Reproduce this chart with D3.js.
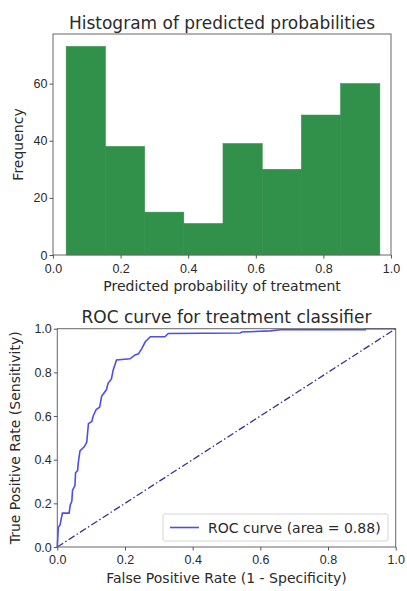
<!DOCTYPE html>
<html>
<head>
<meta charset="utf-8">
<script src="https://cdn.jsdelivr.net/npm/d3@7"></script>
<style>
  body { margin: 0; background: #fff; }
  svg { display: block; font-family: "DejaVu Sans", sans-serif; }
  .axis text { fill: #2a2a2a; font-size: 12.5px; }
  .axis path, .axis line { stroke: #555; }
</style>
</head>
<body>
<svg width="407" height="591"></svg>
<script>
// histogram: bin edges and counts
var binEdges = [0.039, 0.155, 0.271, 0.387, 0.503, 0.619, 0.735, 0.851, 0.967];
var binCounts = [73, 38, 15, 11, 39, 30, 49, 60];
var histXTicks = [0, 0.2, 0.4, 0.6, 0.8, 1.0];
var histYTicks = [0, 20, 40, 60];

// ROC curve points (false positive rate, true positive rate)
var rocFpr = [0, 0.003, 0.008, 0.015, 0.035, 0.038, 0.043, 0.045, 0.052, 0.054, 0.060, 0.062, 0.067,
    0.080, 0.087, 0.092, 0.102, 0.106, 0.115, 0.125, 0.131, 0.145, 0.150, 0.160, 0.165, 0.175,
    0.215, 0.230, 0.240, 0.250, 0.260, 0.275, 0.318, 0.328, 0.540, 0.545, 0.630, 0.660, 0.910, 0.910, 1.0];
var rocTpr = [0, 0.09, 0.10, 0.155, 0.155, 0.19, 0.21, 0.26, 0.28, 0.34, 0.35, 0.385, 0.44,
    0.46, 0.48, 0.565, 0.575, 0.60, 0.63, 0.64, 0.69, 0.72, 0.75, 0.77, 0.81, 0.857,
    0.862, 0.88, 0.885, 0.91, 0.94, 0.963, 0.963, 0.978, 0.98, 0.985, 0.99, 0.995, 0.995, 1.0, 1.0];
var rocTicks = [0, 0.2, 0.4, 0.6, 0.8, 1.0];
var rocArea = 0.88;

var svg = d3.select("svg");
var textColor = "#2a2a2a";

// ---------- Histogram ----------
var h = { left: 53, right: 391, top: 34, bottom: 255 };

var hx = d3.scaleLinear().domain([0, 1]).range([h.left, h.right]);
var hy = d3.scaleLinear().domain([0, d3.max(binCounts) * 1.06]).range([h.bottom, h.top]);

var bins = binCounts.map(function(c, i) { return { x0: binEdges[i], x1: binEdges[i + 1], n: c }; });

svg.append("g").selectAll("rect")
    .data(bins)
    .enter().append("rect")
    .attr("x", function(d) { return hx(d.x0); })
    .attr("y", function(d) { return hy(d.n); })
    .attr("width", function(d) { return hx(d.x1) - hx(d.x0); })
    .attr("height", function(d) { return hy(0) - hy(d.n); })
    .attr("fill", "#31904a")
    .attr("stroke", "#31904a")
    .attr("stroke-width", 0.6);

// frame
svg.append("rect")
    .attr("x", h.left).attr("y", h.top)
    .attr("width", h.right - h.left).attr("height", h.bottom - h.top)
    .attr("fill", "none").attr("stroke", "#666").attr("stroke-width", 1);

svg.append("g")
    .attr("class", "axis")
    .attr("transform", "translate(0," + h.bottom + ")")
    .call(d3.axisBottom(hx).tickValues(histXTicks).tickFormat(d3.format(".1f")).tickSizeOuter(0).tickSize(3.5).tickPadding(6))
    .call(function(g) { g.select(".domain").remove(); });

svg.append("g")
    .attr("class", "axis")
    .attr("transform", "translate(" + h.left + ",0)")
    .call(d3.axisLeft(hy).tickValues(histYTicks).tickFormat(d3.format("d")).tickSizeOuter(0).tickSize(3.5).tickPadding(2))
    .call(function(g) { g.select(".domain").remove(); });

svg.append("text")
    .attr("x", (h.left + h.right) / 2)
    .attr("y", 29)
    .attr("text-anchor", "middle")
    .attr("fill", textColor)
    .style("font-size", "17px")
    .text("Histogram of predicted probabilities");

svg.append("text")
    .attr("x", (h.left + h.right) / 2)
    .attr("y", 291)
    .attr("text-anchor", "middle")
    .attr("fill", textColor)
    .style("font-size", "14px")
    .text("Predicted probability of treatment");

svg.append("text")
    .attr("transform", "rotate(-90)")
    .attr("x", -(h.top + h.bottom) / 2)
    .attr("y", 23)
    .attr("text-anchor", "middle")
    .attr("fill", textColor)
    .style("font-size", "14px")
    .text("Frequency");

// ---------- ROC curve ----------
var r = { left: 57.3, right: 395.7, top: 328.7, bottom: 547 };

var rx = d3.scaleLinear().domain([0, 1]).range([r.left, r.right]);
var ry = d3.scaleLinear().domain([0, 1]).range([r.bottom, r.top]);

var rocData = rocFpr.map(function(f, i) { return [f, rocTpr[i]]; });

svg.append("path")
    .datum([[0, 0], [1, 1]])
    .attr("d", d3.line().x(function(d) { return rx(d[0]); }).y(function(d) { return ry(d[1]); }))
    .attr("fill", "none")
    .attr("stroke", "#33338a")
    .attr("stroke-width", 1.3)
    .attr("stroke-dasharray", "7,2.5,1.5,2.5");

svg.append("path")
    .datum(rocData)
    .attr("d", d3.line().x(function(d) { return rx(d[0]); }).y(function(d) { return ry(d[1]); }))
    .attr("fill", "none")
    .attr("stroke", "#4d4df0")
    .attr("stroke-width", 1.6);

svg.append("rect")
    .attr("x", r.left).attr("y", r.top)
    .attr("width", r.right - r.left).attr("height", r.bottom - r.top)
    .attr("fill", "none").attr("stroke", "#666").attr("stroke-width", 1);

svg.append("g")
    .attr("class", "axis")
    .attr("transform", "translate(0," + r.bottom + ")")
    .call(d3.axisBottom(rx).tickValues(rocTicks).tickFormat(d3.format(".1f")).tickSizeOuter(0).tickSize(3.5).tickPadding(5))
    .call(function(g) { g.select(".domain").remove(); });

svg.append("g")
    .attr("class", "axis")
    .attr("transform", "translate(" + r.left + ",0)")
    .call(d3.axisLeft(ry).tickValues(rocTicks).tickFormat(d3.format(".1f")).tickSizeOuter(0).tickSize(3.5).tickPadding(2))
    .call(function(g) { g.select(".domain").remove(); });

svg.append("text")
    .attr("x", (r.left + r.right) / 2)
    .attr("y", 323)
    .attr("text-anchor", "middle")
    .attr("fill", textColor)
    .style("font-size", "17px")
    .text("ROC curve for treatment classifier");

svg.append("text")
    .attr("x", (r.left + r.right) / 2)
    .attr("y", 583)
    .attr("text-anchor", "middle")
    .attr("fill", textColor)
    .style("font-size", "14px")
    .text("False Positive Rate (1 - Specificity)");

svg.append("text")
    .attr("transform", "rotate(-90)")
    .attr("x", -(r.top + r.bottom) / 2)
    .attr("y", 20)
    .attr("text-anchor", "middle")
    .attr("fill", textColor)
    .style("font-size", "14px")
    .text("True Positive Rate (Sensitivity)");

// legend
var legend = svg.append("g").attr("transform", "translate(163,514)");
legend.append("rect")
    .attr("width", 225).attr("height", 27).attr("rx", 2)
    .attr("fill", "#fff").attr("fill-opacity", 0.8)
    .attr("stroke", "#d6d6d6");
legend.append("line")
    .attr("x1", 7).attr("x2", 36).attr("y1", 13.5).attr("y2", 13.5)
    .attr("stroke", "#4d4df0").attr("stroke-width", 1.6);
legend.append("text")
    .attr("x", 45).attr("y", 18.5)
    .attr("fill", textColor)
    .style("font-size", "14px")
    .text("ROC curve (area = " + rocArea.toFixed(2) + ")");
</script>
</body>
</html>
